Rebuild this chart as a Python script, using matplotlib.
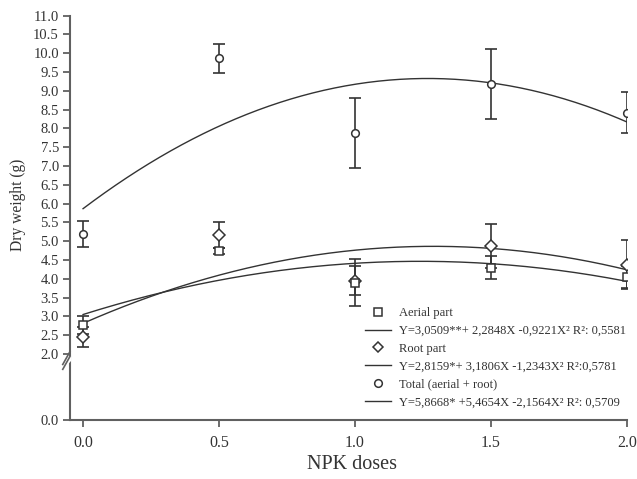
import numpy as np
import matplotlib
matplotlib.use("Agg")
import matplotlib.pyplot as plt
from matplotlib.lines import Line2D

# ---- data ----
doses = [0.0, 0.5, 1.0, 1.5, 2.0]

aerial = [2.77, 4.74, 3.90, 4.30, 4.05]
aerial_err = [0.23, 0.07, 0.62, 0.30, 0.30]

root = [2.46, 5.16, 3.95, 4.88, 4.38]
root_err = [0.26, 0.35, 0.38, 0.58, 0.65]

total = [5.20, 9.87, 7.87, 9.18, 8.42]
total_err = [0.34, 0.39, 0.93, 0.93, 0.55]

# regression coefficients (b0, b1, b2)
aerial_coef = [3.0509, 2.2848, -0.9221]
root_coef = [2.8159, 3.1806, -1.2343]
total_coef = [5.8668, 5.4654, -2.1564]

legend_labels = [
    "Aerial part",
    "Y=3,0509**+ 2,2848X -0,9221X\u00b2 R\u00b2: 0,5581",
    "Root part",
    "Y=2,8159*+ 3,1806X -1,2343X\u00b2 R\u00b2:0,5781",
    "Total (aerial + root)",
    "Y=5,8668* +5,4654X -2,1564X\u00b2 R\u00b2: 0,5709",
]

xticks = [0.0, 0.5, 1.0, 1.5, 2.0]
xticklabels = ["0.0", "0.5", "1.0", "1.5", "2.0"]
# broken axis: the bottom tick stands for 0.0
ybottom = 0.245
yticks = [ybottom] + [2.0 + 0.5 * i for i in range(19)]
yticklabels = ["0.0"] + ["%.1f" % v for v in yticks[1:]]

# ---- style ----
ink = "#333333"
spine_c = "#606060"
plt.rcParams["font.family"] = ["Liberation Serif", "DejaVu Serif"]

fig = plt.figure(figsize=(6.37, 4.79), dpi=100)
ax = fig.add_axes([70 / 637, 59 / 479, 557 / 637, 404.3 / 479])

x = np.linspace(0, 2, 200)
for coef in (aerial_coef, root_coef, total_coef):
    ax.plot(x, coef[0] + coef[1] * x + coef[2] * x ** 2, color=ink, lw=1.0)

ekw = dict(fmt="none", ecolor=ink, elinewidth=1.2, capsize=4.5, capthick=1.2)
ax.errorbar(doses, total, yerr=total_err, **ekw)
ax.errorbar(doses, root, yerr=root_err, **ekw)
ax.errorbar(doses, aerial, yerr=aerial_err, **ekw)

mkw = dict(ls="none", mfc="white", mec=ink, mew=1.1, zorder=5)
ax.plot(doses, total, marker="o", ms=5.5, **mkw)
ax.plot(doses, root, marker="D", ms=6, **mkw)
ax.plot(doses, aerial, marker="s", ms=6, **mkw)

ax.set_xlim(-0.048, 2.0)
ax.set_ylim(ybottom, 11.0)
ax.set_xticks(xticks)
ax.set_xticklabels(xticklabels)
ax.set_yticks(yticks)
ax.set_yticklabels(yticklabels)

for s in ("top", "right"):
    ax.spines[s].set_visible(False)
for s in ("left", "bottom"):
    ax.spines[s].set_color(spine_c)
    ax.spines[s].set_linewidth(1.5)
ax.tick_params(axis="both", colors=spine_c, width=1.3, length=5,
               labelcolor=ink, labelsize=10.5)
ax.tick_params(axis="x", pad=6, labelsize=11.5)
ax.tick_params(axis="y", pad=3)

ax.set_xlabel("NPK doses", fontsize=14.5, color=ink)
ax.xaxis.set_label_coords(0.507, -0.087)
ax.set_ylabel("Dry weight (g)", fontsize=11.2, color=ink)
ax.yaxis.set_label_coords(-0.079, 0.532)

# axis break marks
tr = ax.transAxes
yb = (358 - 420) / -404.3
for dy in (-0.012, 0.0):
    ax.plot([-0.013, 0.0], [yb + dy - 0.016, yb + dy + 0.016], transform=tr,
            color=spine_c, lw=1.2, clip_on=False, zorder=6)
ax.fill([-0.012, 0.001, 0.001, -0.012],
        [yb - 0.026, yb - 0.006, yb + 0.004, yb - 0.016],
        transform=tr, color="white", clip_on=False, zorder=5)

handles = [
    Line2D([], [], ls="none", marker="s", ms=6, mfc="white", mec=ink, mew=1.1),
    Line2D([], [], color=ink, lw=1.0),
    Line2D([], [], ls="none", marker="D", ms=5.5, mfc="white", mec=ink, mew=1.1),
    Line2D([], [], color=ink, lw=1.0),
    Line2D([], [], ls="none", marker="o", ms=5.5, mfc="white", mec=ink, mew=1.1),
    Line2D([], [], color=ink, lw=1.0),
]
leg = ax.legend(handles, legend_labels, loc="upper left",
                bbox_to_anchor=((365 - 70) / 557, (420 - 307) / 404.3),
                frameon=False, fontsize=9, handlelength=2.1,
                handletextpad=0.65, labelspacing=0.47, borderpad=0,
                borderaxespad=0)
for t in leg.get_texts():
    t.set_color(ink)

fig.savefig("out.png", dpi=100)
